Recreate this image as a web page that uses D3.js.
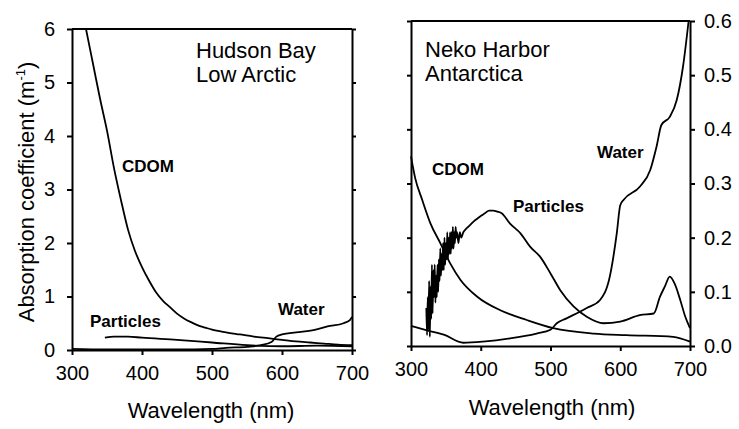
<!DOCTYPE html>
<html>
<head>
<meta charset="utf-8">
<script src="https://cdn.jsdelivr.net/npm/d3@7"></script>
<style>
  body { margin: 0; background: #fff; }
  svg { display: block; font-family: "Liberation Sans", Arial, sans-serif; }
  .curve { fill: none; stroke: #000; stroke-width: 1.8; stroke-linejoin: round; }
  .axis path, .axis line { stroke: #000; stroke-width: 2; }
  .axis text { font-size: 20px; fill: #000; }
  .lbl { font-size: 17px; font-weight: bold; }
  .site { font-size: 22px; }
  .title { font-size: 22px; }
</style>
</head>
<body>
<svg width="739" height="429"></svg>
<script>
// wavelength ticks shared by both panels
var wlTicks = [300, 400, 500, 600, 700]

// Hudson Bay (left), m^-1
var hbCdom = [[320,6.0],[330,5.35],[340,4.7],[350,4.1],[360,3.4],[370,2.8],[380,2.25],[390,1.85],[400,1.55],
  [410,1.3],[420,1.08],[430,0.92],[440,0.8],[450,0.68],[460,0.59],[470,0.52],[480,0.46],[490,0.42],[500,0.38],
  [520,0.33],[540,0.29],[560,0.25],[580,0.22],[600,0.19],[620,0.16],[640,0.14],[660,0.12],[680,0.1],[700,0.09]]
var hbParticles = [[347,0.23],[360,0.25],[380,0.25],[400,0.23],[450,0.19],[500,0.14],[550,0.09],[600,0.07],[650,0.08],[700,0.07]]
var hbWater = [[300,0.02],[350,0.01],[400,0.01],[450,0.01],[500,0.02],[520,0.04],[550,0.06],[570,0.09],[585,0.15],
  [592,0.25],[600,0.29],[620,0.33],[645,0.37],[665,0.44],[688,0.5],[697,0.56],[700,0.62]]
var hbTicks = [0, 1, 2, 3, 4, 5, 6]

// Neko Harbor (right), m^-1
var nhCdom = [[300,0.35],[306,0.31],[316,0.27],[328,0.226],[342,0.19],[356,0.153],[371,0.122],[395,0.091],
  [428,0.066],[466,0.048],[504,0.033],[562,0.023],[609,0.02],[676,0.017],[700,0.008]]
var nhParticles = [[322,0.07],[323,0.02],[324,0.09],[325,0.03],[326,0.12],[327,0.017],[328,0.11],[329,0.05],[330,0.15],
  [331,0.06],[332,0.14],[333,0.09],[334,0.15],[335,0.08],[336,0.13],[337,0.09],[338,0.15],[339,0.1],[340,0.16],
  [341,0.12],[342,0.18],[343,0.13],[344,0.17],[345,0.14],[346,0.19],[347,0.14],[348,0.2],[349,0.15],[350,0.19],
  [351,0.16],[352,0.21],[353,0.16],[354,0.2],[355,0.17],[356,0.21],[357,0.17],[358,0.21],[359,0.18],[360,0.22],
  [361,0.18],[362,0.21],[363,0.19],[364,0.22],[365,0.2],[366,0.21],[368,0.19],[370,0.21],[372,0.2],[375,0.21],
  [378,0.215],[382,0.22],[386,0.225],[390,0.23],[395,0.235],[400,0.24],[406,0.245],[412,0.25],[418,0.25],
  [424,0.248],[430,0.245],[442,0.226],[457,0.208],[471,0.183],[485,0.165],[500,0.134],[514,0.103],[533,0.073],
  [552,0.054],[576,0.042],[600,0.045],[628,0.057],[648,0.06],[657,0.091],[664,0.11],[671,0.128],[678,0.115],
  [686,0.085],[693,0.055],[700,0.033]]
var nhWater = [[300,0.037],[323,0.029],[347,0.021],[375,0.006],[403,0.008],[442,0.014],[480,0.023],[500,0.03],
  [509,0.042],[523,0.051],[552,0.07],[571,0.085],[585,0.128],[595,0.208],[600,0.26],[605,0.27],[628,0.294],
  [643,0.325],[652,0.368],[659,0.408],[671,0.423],[681,0.454],[690,0.516],[698,0.6]]
var nhTicks = [0, 0.1, 0.2, 0.3, 0.4, 0.5, 0.6]

var svg = d3.select("svg")

function drawPanel(p) {
  var x = d3.scaleLinear().domain([300, 700]).range(p.xr)
  var y = d3.scaleLinear().domain(p.yd).range(p.yr)
  var g = svg.append("g")

  var line = d3.line().x(function(d) { return x(d[0]) }).y(function(d) { return y(d[1]) }).curve(d3.curveMonotoneX)
  p.series.forEach(function(s) {
    g.append("path").attr("class", "curve").attr("d", line(s))
  })

  // bottom axis with labels
  g.append("g").attr("class", "axis").attr("transform", "translate(0," + p.yr[0] + ")")
    .call(d3.axisBottom(x).tickValues(wlTicks).tickSizeInner(5).tickSizeOuter(0).tickPadding(11))
  // top border
  g.append("line").attr("x1", p.xr[0]).attr("x2", p.xr[1]).attr("y1", p.yr[1]).attr("y2", p.yr[1])
    .attr("stroke", "#000").attr("stroke-width", 2)

  var labelled = p.side == "left" ? d3.axisLeft(y) : d3.axisRight(y)
  var bare = p.side == "left" ? d3.axisRight(y) : d3.axisLeft(y)
  g.append("g").attr("class", "axis")
    .attr("transform", "translate(" + (p.side == "left" ? p.xr[0] : p.xr[1]) + ",0)")
    .call(labelled.tickValues(p.ticks).tickFormat(p.fmt).tickSizeInner(5).tickSizeOuter(0).tickPadding(p.side == "left" ? 12 : 9))
  g.append("g").attr("class", "axis")
    .attr("transform", "translate(" + (p.side == "left" ? p.xr[1] : p.xr[0]) + ",0)")
    .call(bare.tickValues(p.ticks).tickFormat("").tickSizeInner(4).tickSizeOuter(0))

  p.site.forEach(function(t, i) {
    g.append("text").attr("class", "site").attr("x", p.siteX).attr("y", p.siteY[i]).text(t)
  })
  p.labels.forEach(function(l) {
    g.append("text").attr("class", "lbl").attr("x", l[1]).attr("y", l[2]).text(l[0])
  })
  g.append("text").attr("class", "title").attr("text-anchor", "middle")
    .attr("x", p.titleX).attr("y", p.titleY).text("Wavelength (nm)")
}

drawPanel({
  xr: [72, 352], yd: [0, 6], yr: [350, 29], side: "left", ticks: hbTicks, fmt: d3.format("d"),
  series: [hbCdom, hbParticles, hbWater],
  site: ["Hudson Bay", "Low Arctic"], siteX: 196, siteY: [58, 82],
  labels: [["CDOM", 122, 172], ["Particles", 90, 327], ["Water", 278, 315]],
  titleX: 211, titleY: 418
})

drawPanel({
  xr: [411, 690], yd: [0, 0.6], yr: [346, 21], side: "right", ticks: nhTicks, fmt: d3.format(".1f"),
  series: [nhCdom, nhParticles, nhWater],
  site: ["Neko Harbor", "Antarctica"], siteX: 425, siteY: [57, 81],
  labels: [["CDOM", 432, 175], ["Particles", 513, 212], ["Water", 597, 158]],
  titleX: 552, titleY: 415
})

var yt = svg.append("text").attr("class", "title").attr("text-anchor", "middle")
  .attr("transform", "translate(34,192) rotate(-90)")
yt.append("tspan").text("Absorption coefficient (m")
yt.append("tspan").attr("font-size", "13px").attr("dy", -9).text("-1")
yt.append("tspan").attr("dy", 9).text(")")
</script>
</body>
</html>
